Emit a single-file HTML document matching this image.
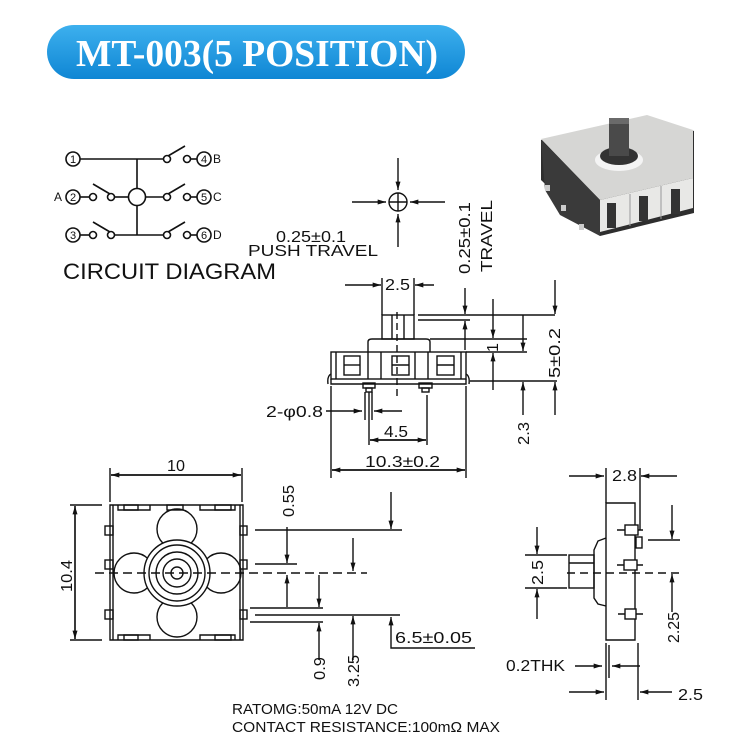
<!DOCTYPE html>
<html><head><meta charset="utf-8"><style>
html,body{margin:0;padding:0;background:#fff;}
svg{display:block;}
text{font-family:"Liberation Sans",sans-serif;fill:#111;}
</style></head><body>
<svg width="735" height="744" viewBox="0 0 735 744" xmlns="http://www.w3.org/2000/svg">
<defs>
<linearGradient id="bl" x1="0" y1="0" x2="0" y2="1"><stop offset="0" stop-color="#3db0ee"/><stop offset="1" stop-color="#0f86d4"/></linearGradient>
<marker id="a" viewBox="0 0 10 6" refX="10" refY="3" markerWidth="9" markerHeight="5" orient="auto" markerUnits="userSpaceOnUse"><path d="M0,0 L10,3 L0,6 z" fill="#111"/></marker>
</defs>
<rect x="47" y="25" width="418" height="54" rx="27" fill="url(#bl)"/>
<text x="76" y="66" style="font-family:'Liberation Serif',serif;font-weight:bold;fill:#fff" font-size="38" textLength="362" lengthAdjust="spacingAndGlyphs">MT-003(5 POSITION)</text>

<g stroke="#111" stroke-width="1.6" fill="none">
<line x1="80" y1="159" x2="164" y2="159"/>
<line x1="137" y1="159" x2="137" y2="235"/>
<circle cx="137" cy="197" r="8.5" fill="#fff"/>
<line x1="80" y1="197" x2="89" y2="197"/><line x1="114" y1="197" x2="129" y2="197"/>
<line x1="145" y1="197" x2="164" y2="197"/>
<line x1="80" y1="235" x2="89" y2="235"/><line x1="114" y1="235" x2="164" y2="235"/>
<line x1="93" y1="184" x2="110" y2="194"/><line x1="93" y1="222" x2="110" y2="232"/>
<line x1="168" y1="156" x2="185" y2="146"/><line x1="168" y1="194" x2="185" y2="184"/><line x1="168" y1="232" x2="185" y2="222"/>
<line x1="190" y1="159" x2="197" y2="159"/><line x1="190" y1="197" x2="197" y2="197"/><line x1="190" y1="235" x2="197" y2="235"/>
<g fill="#fff">
<circle cx="93" cy="197" r="3.5"/><circle cx="111" cy="197" r="3.5"/>
<circle cx="93" cy="235" r="3.5"/><circle cx="111" cy="235" r="3.5"/>
<circle cx="167" cy="159" r="3.5"/><circle cx="187" cy="159" r="3.5"/>
<circle cx="167" cy="197" r="3.5"/><circle cx="187" cy="197" r="3.5"/>
<circle cx="167" cy="235" r="3.5"/><circle cx="187" cy="235" r="3.5"/>
<circle cx="73" cy="159" r="7"/><circle cx="73" cy="197" r="7"/><circle cx="73" cy="235" r="7"/>
<circle cx="204" cy="159" r="7"/><circle cx="204" cy="197" r="7"/><circle cx="204" cy="235" r="7"/>
</g>
</g>
<g font-size="11" text-anchor="middle">
<text x="73" y="163">1</text><text x="73" y="201">2</text><text x="73" y="239">3</text>
<text x="204" y="163">4</text><text x="204" y="201">5</text><text x="204" y="239">6</text>
</g>
<g font-size="12"><text x="54" y="201">A</text><text x="213" y="163">B</text><text x="213" y="201">C</text><text x="213" y="239">D</text></g>
<text x="63" y="279" font-size="22" textLength="213" lengthAdjust="spacingAndGlyphs">CIRCUIT DIAGRAM</text>

<g stroke="#111" stroke-width="1.4" fill="none">
<circle cx="398" cy="202" r="9"/>
<line x1="389" y1="202" x2="407" y2="202"/><line x1="398" y1="193" x2="398" y2="211"/>
<line x1="398" y1="158" x2="398" y2="190" marker-end="url(#a)"/>
<line x1="398" y1="247" x2="398" y2="214" marker-end="url(#a)"/>
<line x1="352" y1="202" x2="386" y2="202" marker-end="url(#a)"/>
<line x1="445" y1="202" x2="410" y2="202" marker-end="url(#a)"/>
</g>
<text x="276" y="242" font-size="16" textLength="70" lengthAdjust="spacingAndGlyphs">0.25±0.1</text>
<text x="248" y="256" font-size="16" textLength="130" lengthAdjust="spacingAndGlyphs">PUSH TRAVEL</text>
<text transform="translate(470,274) rotate(-90)" font-size="16" textLength="72" lengthAdjust="spacingAndGlyphs">0.25±0.1</text>
<text transform="translate(492,272) rotate(-90)" font-size="16" textLength="72" lengthAdjust="spacingAndGlyphs">TRAVEL</text>

<g stroke="#111" stroke-width="1.4" fill="none">
<line x1="345" y1="285" x2="381" y2="285" marker-end="url(#a)"/>
<line x1="434" y1="285" x2="415" y2="285" marker-end="url(#a)"/>
<line x1="382" y1="278" x2="382" y2="315"/><line x1="414" y1="278" x2="414" y2="315"/>
<rect x="382" y="315" width="32" height="24"/>
<line x1="392" y1="315" x2="392" y2="339"/><line x1="404" y1="315" x2="404" y2="339"/>
<path d="M368,352 L368,342 Q368,339 372,339 L426,339 Q430,339 430,342 L430,352"/>
<rect x="331" y="352" width="135" height="27"/>
<line x1="336" y1="352" x2="336" y2="379"/><line x1="461" y1="352" x2="461" y2="379"/>
<rect x="344" y="356" width="16" height="19"/><rect x="392" y="356" width="17" height="19"/><rect x="437" y="356" width="17" height="19"/>
<line x1="344" y1="365" x2="360" y2="365"/><line x1="392" y1="365" x2="409" y2="365"/><line x1="437" y1="365" x2="454" y2="365"/>
<line x1="368" y1="352" x2="368" y2="379"/><line x1="381" y1="352" x2="381" y2="379"/>
<line x1="415" y1="352" x2="415" y2="379"/><line x1="428" y1="352" x2="428" y2="379"/>
<path d="M331,379 L331,384 L466,384 L466,379"/>
<path d="M331,374 Q327,376 328,384"/><path d="M466,374 Q470,376 469,384"/>
<rect x="363" y="383" width="12" height="5"/><rect x="366" y="388" width="6" height="4"/>
<rect x="419" y="383" width="13" height="5"/><rect x="422" y="388" width="7" height="4"/>
<line x1="397" y1="312" x2="397" y2="397" stroke-dasharray="7,4"/>
<line x1="418" y1="315" x2="555" y2="315"/>
<line x1="418" y1="320" x2="470" y2="320"/>
<line x1="430" y1="339" x2="527" y2="339"/>
<line x1="466" y1="352" x2="527" y2="352"/>
<line x1="470" y1="381" x2="557" y2="381"/>
<line x1="465" y1="288" x2="465" y2="314" marker-end="url(#a)"/>
<line x1="465" y1="350" x2="465" y2="321" marker-end="url(#a)"/>
<line x1="493" y1="299" x2="493" y2="338" marker-end="url(#a)"/>
<line x1="493" y1="390" x2="493" y2="353" marker-end="url(#a)"/>
<line x1="523" y1="315" x2="523" y2="351" marker-end="url(#a)"/>
<line x1="523" y1="415" x2="523" y2="382" marker-end="url(#a)"/>
<line x1="555" y1="280" x2="555" y2="314" marker-end="url(#a)"/>
<line x1="555" y1="415" x2="555" y2="382" marker-end="url(#a)"/>
<line x1="326" y1="411" x2="362" y2="411" marker-end="url(#a)"/>
<line x1="402" y1="411" x2="374" y2="411" marker-end="url(#a)"/>
<line x1="365" y1="392" x2="365" y2="420"/><line x1="372" y1="392" x2="372" y2="420"/>
<line x1="369" y1="392" x2="369" y2="445"/><line x1="427" y1="395" x2="427" y2="445"/>
<line x1="370" y1="440" x2="426" y2="440" marker-end="url(#a)"/>
<line x1="426" y1="440" x2="370" y2="440" marker-end="url(#a)"/>
<line x1="331" y1="386" x2="331" y2="478"/><line x1="466" y1="386" x2="466" y2="478"/>
<line x1="332" y1="470" x2="465" y2="470" marker-end="url(#a)"/>
<line x1="465" y1="470" x2="332" y2="470" marker-end="url(#a)"/>
</g>
<text x="385" y="290" font-size="16" textLength="25" lengthAdjust="spacingAndGlyphs">2.5</text>
<text transform="translate(498,352) rotate(-90)" font-size="16">1</text>
<text transform="translate(560,378) rotate(-90)" font-size="16" textLength="50" lengthAdjust="spacingAndGlyphs">5±0.2</text>
<text transform="translate(529,445) rotate(-90)" font-size="16" textLength="23" lengthAdjust="spacingAndGlyphs">2.3</text>
<text x="266" y="417" font-size="16" textLength="57" lengthAdjust="spacingAndGlyphs">2-φ0.8</text>
<text x="384" y="437" font-size="16" textLength="24" lengthAdjust="spacingAndGlyphs">4.5</text>
<text x="365" y="467" font-size="16" textLength="75" lengthAdjust="spacingAndGlyphs">10.3±0.2</text>

<g stroke="#111" stroke-width="1.4" fill="none">
<line x1="110" y1="468" x2="110" y2="502"/><line x1="242" y1="468" x2="242" y2="502"/>
<line x1="111" y1="475" x2="241" y2="475" marker-end="url(#a)"/>
<line x1="241" y1="475" x2="111" y2="475" marker-end="url(#a)"/>
<path d="M110,505 L243,505 L243,640 L110,640 Z"/>
<path d="M113,505 L113,640 M240,505 L240,640"/>
<rect x="124" y="505" width="14" height="5"/><rect x="167" y="505" width="16" height="5"/><rect x="215" y="505" width="16" height="5"/>
<rect x="124" y="635" width="14" height="5"/><rect x="215" y="635" width="16" height="5"/>
<path d="M118,505 L118,510 L150,510 L150,505 M200,505 L200,510 L235,510 L235,505"/>
<path d="M118,640 L118,635 L150,635 L150,640 M200,640 L200,635 L235,635 L235,640"/>
<rect x="105" y="526" width="8" height="9"/><rect x="105" y="560" width="8" height="9"/><rect x="105" y="610" width="8" height="9"/>
<rect x="240" y="526" width="7" height="9"/><rect x="240" y="560" width="7" height="9"/><rect x="240" y="610" width="7" height="9"/>
<circle cx="177" cy="529" r="20"/><circle cx="177" cy="617" r="20"/>
<circle cx="134" cy="573" r="20"/><circle cx="221" cy="573" r="20"/>
<circle cx="177" cy="573" r="33" fill="#fff"/>
<circle cx="177" cy="573" r="28"/><circle cx="177" cy="573" r="21"/><circle cx="177" cy="573" r="14"/><circle cx="177" cy="573" r="6"/>
<line x1="95" y1="573" x2="367" y2="573" stroke-dasharray="9,5"/>
<line x1="70" y1="505" x2="102" y2="505"/><line x1="70" y1="640" x2="102" y2="640"/>
<line x1="75" y1="506" x2="75" y2="639" marker-end="url(#a)"/>
<line x1="75" y1="639" x2="75" y2="506" marker-end="url(#a)"/>
<line x1="255" y1="530" x2="402" y2="530"/>
<line x1="391" y1="492" x2="391" y2="529" marker-end="url(#a)"/>
<line x1="255" y1="564" x2="297" y2="564"/>
<line x1="287" y1="527" x2="287" y2="563" marker-end="url(#a)"/>
<line x1="287" y1="607" x2="287" y2="575" marker-end="url(#a)"/>
<line x1="353" y1="538" x2="353" y2="571" marker-end="url(#a)"/>
<line x1="250" y1="608" x2="323" y2="608"/>
<line x1="255" y1="615" x2="400" y2="615"/>
<line x1="250" y1="622" x2="323" y2="622"/>
<line x1="319" y1="575" x2="319" y2="607" marker-end="url(#a)"/>
<line x1="319" y1="660" x2="319" y2="623" marker-end="url(#a)"/>
<line x1="353" y1="660" x2="353" y2="616" marker-end="url(#a)"/>
<path d="M475,648 L391,648 L391,617" marker-end="url(#a)"/>
</g>
<text x="167" y="471" font-size="16" textLength="18" lengthAdjust="spacingAndGlyphs">10</text>
<text transform="translate(72,592) rotate(-90)" font-size="16" textLength="32" lengthAdjust="spacingAndGlyphs">10.4</text>
<text transform="translate(294,517) rotate(-90)" font-size="16" textLength="32" lengthAdjust="spacingAndGlyphs">0.55</text>
<text transform="translate(325,680) rotate(-90)" font-size="16" textLength="23" lengthAdjust="spacingAndGlyphs">0.9</text>
<text transform="translate(359,687) rotate(-90)" font-size="16" textLength="32" lengthAdjust="spacingAndGlyphs">3.25</text>
<text x="395" y="643" font-size="16" textLength="77" lengthAdjust="spacingAndGlyphs">6.5±0.05</text>

<g stroke="#111" stroke-width="1.4" fill="none">
<line x1="569" y1="476" x2="604" y2="476" marker-end="url(#a)"/>
<line x1="677" y1="476" x2="641" y2="476" marker-end="url(#a)"/>
<line x1="606" y1="468" x2="606" y2="503"/><line x1="640" y1="468" x2="640" y2="530"/>
<path d="M606,503 L635,503 L635,640 L606,640 Z"/>
<path d="M606,538 L598,541 L594,550 L594,598 L598,604 L606,606"/>
<rect x="569" y="555" width="25" height="33"/>
<line x1="569" y1="563" x2="594" y2="563"/>
<line x1="617" y1="530" x2="643" y2="530"/><rect x="625" y="525" width="13" height="10" fill="#fff"/>
<rect x="636" y="537" width="6" height="11" fill="#fff"/>
<line x1="617" y1="565" x2="643" y2="565"/><rect x="624" y="560" width="13" height="10" fill="#fff"/>
<line x1="618" y1="614" x2="643" y2="614"/><rect x="625" y="609" width="11" height="10" fill="#fff"/>
<line x1="567" y1="573" x2="680" y2="573" stroke-dasharray="8,5"/>
<line x1="525" y1="555" x2="567" y2="555"/><line x1="525" y1="588" x2="567" y2="588"/>
<line x1="537" y1="527" x2="537" y2="554" marker-end="url(#a)"/>
<line x1="537" y1="619" x2="537" y2="589" marker-end="url(#a)"/>
<line x1="648" y1="540" x2="680" y2="540"/>
<line x1="672" y1="505" x2="672" y2="539" marker-end="url(#a)"/>
<line x1="672" y1="612" x2="672" y2="574" marker-end="url(#a)"/>
<line x1="575" y1="666" x2="602" y2="666" marker-end="url(#a)"/>
<line x1="640" y1="666" x2="612" y2="666" marker-end="url(#a)"/>
<line x1="606" y1="643" x2="606" y2="700"/><line x1="609" y1="645" x2="609" y2="678"/>
<line x1="638" y1="643" x2="638" y2="700"/>
<line x1="569" y1="692" x2="604" y2="692" marker-end="url(#a)"/>
<line x1="672" y1="692" x2="640" y2="692" marker-end="url(#a)"/>
</g>
<text x="612" y="481" font-size="16" textLength="25" lengthAdjust="spacingAndGlyphs">2.8</text>
<text transform="translate(543,585) rotate(-90)" font-size="16" textLength="25" lengthAdjust="spacingAndGlyphs">2.5</text>
<text transform="translate(679,643) rotate(-90)" font-size="16" textLength="31" lengthAdjust="spacingAndGlyphs">2.25</text>
<text x="506" y="671" font-size="16" textLength="59" lengthAdjust="spacingAndGlyphs">0.2THK</text>
<text x="678" y="700" font-size="16" textLength="25" lengthAdjust="spacingAndGlyphs">2.5</text>

<text x="232" y="714" font-size="15" textLength="166" lengthAdjust="spacingAndGlyphs">RATOMG:50mA 12V DC</text>
<text x="232" y="732" font-size="15" textLength="268" lengthAdjust="spacingAndGlyphs">CONTACT RESISTANCE:100mΩ MAX</text>

<polygon points="541,140 647,116 694,131 694,213 600,236 541,180" fill="#2e2e2e"/>
<polygon points="541,139 647,115 693,130 693,178 600,200" fill="#d6d6d4"/>
<polygon points="600,200 693,178 693,208 600,232" fill="#e8e8e6"/>
<polygon points="541,140 600,200 600,236 560,215 545,190" fill="#3a3a3a"/>
<rect x="607" y="203" width="9" height="25" fill="#333"/><rect x="639" y="196" width="9" height="25" fill="#333"/><rect x="671" y="189" width="9" height="25" fill="#333"/>
<line x1="630" y1="194" x2="630" y2="226" stroke="#999"/><line x1="661" y1="186" x2="661" y2="219" stroke="#999"/>
<ellipse cx="619" cy="160" rx="24" ry="11" fill="#f4f4f4"/>
<ellipse cx="619" cy="156" rx="19" ry="9" fill="#333"/>
<rect x="609" y="120" width="20" height="36" fill="#4a4a4a"/>
<rect x="609" y="118" width="20" height="6" fill="#6a6a6a"/>
<rect x="545" y="185" width="5" height="6" fill="#ccc"/><rect x="561" y="205" width="5" height="6" fill="#ccc"/><rect x="579" y="224" width="5" height="6" fill="#ccc"/>
</svg>
</body></html>
